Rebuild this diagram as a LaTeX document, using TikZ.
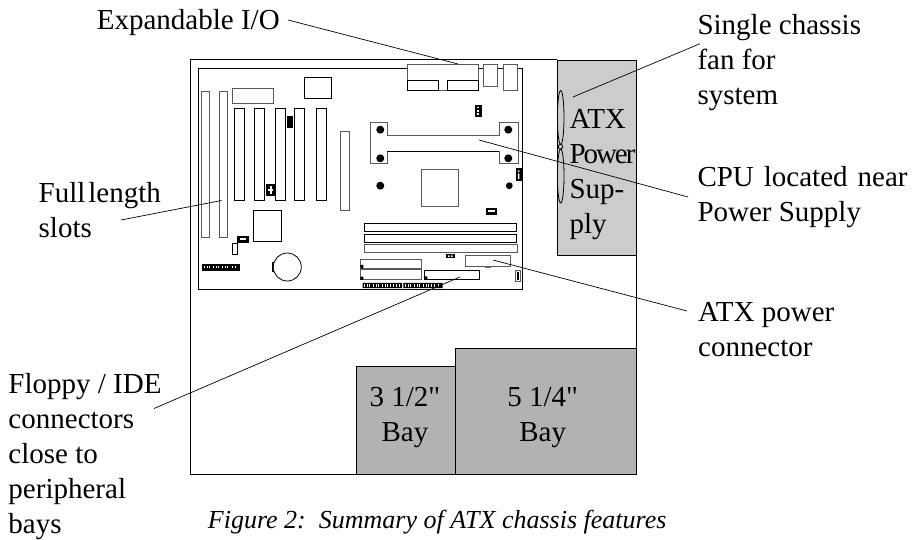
\documentclass[tikz,border=0pt]{standalone}
\usepackage{fontspec}
\setmainfont{Liberation Serif}
\newfontfamily\plainserif{Liberation Serif}
\usepackage{tikz}
\usetikzlibrary{positioning}
\definecolor{psugray}{gray}{0.8}
\definecolor{baygray}{gray}{0.7}
\tikzset{
    part/.style={draw=black,line width=0.8pt,fill=white},
    softpart/.style={draw=black!65,line width=1pt,fill=white},
    chip/.style={draw=black,line width=0.8pt,fill=black},
    lead/.style={draw=black,line width=0.7pt},
    hole/.style={fill=black},
    lab/.style={inner sep=0pt,anchor=base west,align=left,font=\fontsize{29}{35}\selectfont},
    baylab/.style={inner sep=0pt,anchor=base,align=center,font=\fontsize{29}{35}\plainserif\selectfont}
}
\begin{document}
\begin{tikzpicture}[x=1pt,y=-1pt]
    \useasboundingbox (0,0) rectangle (916,540);
    % chassis and power supply
    \draw[part] (190,474) -- (190,59.5) -- (557,59.5);
    \draw[part] (636.5,255) -- (636.5,474) -- (190,474);
    \draw[part,fill=psugray] (557,60) rectangle (636.5,255);
    \draw[part,fill=baygray] (356.5,366) rectangle (455,474);
    \draw[part,fill=baygray] (455,348.5) rectangle (636.5,474);
    \draw[part,fill=none] (560.7,117.5) ellipse (3.3pt and 27pt);
    \draw[part,fill=none] (560.7,176) ellipse (3.3pt and 27pt);
    \draw[part,fill=none] (560.5,146.7) circle (2.3pt);
    % board
    \draw[part] (198,68) rectangle (522,289);
    \foreach \x in {201,219}
        \draw[softpart] (\x,92) rectangle +(8,146);
    \foreach \x in {234,254.5,275,294.5,316}
        \draw[part] (\x,108) rectangle +(10,92);
    \draw[softpart] (340,132) rectangle (349,211);
    \draw[softpart] (232,88.5) rectangle (273.5,104);
    \draw[part] (304,77) rectangle (331,98.5);
    \draw[part] (253,210.7) rectangle (281.7,241.3);
    \draw[chip] (287.5,116) rectangle (292.5,127);
    \draw[chip] (266,184) rectangle (274.5,195.5);
    \draw[white,line width=1.2pt] (268,190) -- (273,190) (271,186) -- (271,194);
    \draw[chip] (237.5,236.5) rectangle (248.5,242);
    \draw[white,line width=1.5pt] (240,239) -- (246,239);
    \draw[part] (232.3,243.5) rectangle (237,254);
    % battery and pin header
    \draw[part] (272,262) rectangle (277,271);
    \draw[part] (287.3,267) circle (14pt);
    \fill (202,264.5) rectangle (240,271.5);
    \foreach \x in {204,206.5,209,213,215.5,218,222,224.5,227,231.5,235}
        \fill[white] (\x,266) rectangle +(1.3,1.8);
    % expandable I/O
    \draw[softpart] (407.7,65) rectangle (478.3,90.7);
    \draw[part] (407.7,80.7) rectangle (438.3,90.7);
    \draw[part] (447.7,80.7) rectangle (478.3,90.7);
    \draw[softpart] (483.5,65) rectangle (497.3,86.3);
    \draw[softpart] (503,65) rectangle (517.3,90.3);
    \draw[chip] (475,105) rectangle (481,116);
    \foreach \y in {107,110.5,113.5}
        \fill[white] (476.8,\y) rectangle +(2.4,1.3);
    % cpu retention and holes
    \draw[softpart] (370.3,123) -- (387,123) -- (387,136) -- (499.3,136) -- (499.3,123)
        -- (518.3,123) -- (518.3,164) -- (499.3,164) -- (499.3,151.3) -- (387,151.3)
        -- (387,164) -- (370.3,164) -- cycle;
    \draw[part] (387,151.3) -- (499.3,151.3);
    \foreach \x/\y/\r in {380.3/129.7/4,508.3/129.7/4,380.3/158.3/4,508.3/158.3/4,380.3/185.7/4,509.3/185.7/3.4}
        \fill[hole] (\x,\y) circle (\r pt);
    \draw[softpart] (421.7,169.5) rectangle (458.3,206.7);
    \draw[chip] (516,168.5) rectangle (521,180);
    \fill[white] (517.8,170.5) rectangle +(1.5,1.5) (517.8,173.5) rectangle +(1.5,5.5);
    \draw[chip] (486,208.5) rectangle (496.5,214);
    \fill[white] (488,210.3) rectangle +(7,1.6);
    % memory sockets
    \draw[part] (364.3,223.3) rectangle (516.7,231.7);
    \draw[part] (364.3,234.7) rectangle (516.7,242.7);
    \draw[softpart] (364.3,244.3) rectangle (517.3,252.3);
    % connectors
    \draw[chip] (446.5,254.5) rectangle (454,257.7);
    \fill[white] (448,255.5) rectangle +(1.6,1.4) (451,255.5) rectangle +(1.6,1.4);
    \draw[softpart] (465.7,255.5) rectangle (510,266.3);
    \fill[black!60] (485.3,266) rectangle (490.7,267.7);
    \draw[softpart] (360.3,259.3) rectangle (421,268.7);
    \draw[softpart] (360.3,269.7) rectangle (421,280);
    \draw[part] (424.3,270.3) rectangle (479.3,279.3);
    \fill (360.3,265) rectangle +(3,3.3) (360.3,276.7) rectangle +(3,3.3) (424.3,276.5) rectangle +(3,3);
    \fill (362.7,283) rectangle (402,288) (403.3,283) rectangle (442.7,288);
    \foreach \x in {364,366.5,369,373,375.5,378,382,384.5,387,390,393,396,399,405,407.5,410,414,416.5,419,423,425.5,428,431,434,438}
        \fill[white] (\x,284.3) rectangle +(1.4,2.4);
    \draw[softpart] (515,271) rectangle (520.5,282);
    \fill (516.5,272.5) rectangle (519,280.5);
    % text
    \node[lab] (IO) at (96.7,30) {Expandable I/O};
    \node[lab] (FAN) at (697.3,105) {Single chassis\\fan for\\system};
    \node[lab] (CPU) at (697.3,221.7) {{\spaceskip=10pt CPU located near}\\Power Supply};
    \node[lab] (PWR) at (698,356.7) {ATX power\\connector};
    \node[lab] (SLOTS) at (38.5,237.7) {{\spaceskip=3pt Full length}\\slots};
    \node[lab] (IDE) at (8.3,533.5) {Floppy / IDE\\connectors\\close to\\peripheral\\bays};
    \node[lab] (PSU) at (569.3,233.5) {ATX\\{\addfontfeature{LetterSpace=-7}Power}\\Sup-\\ply};
    \node[baylab] (SMALL) at (405,441.7) {3 1/2"\\Bay};
    \node[baylab] (LARGE) at (542.7,441.7) {5 1/4"\\Bay};
    \node[inner sep=0pt,anchor=base west,font=\fontsize{26}{31}\selectfont\itshape] (CAP) at (207.7,528) {Figure 2:\ \ Summary of ATX chassis features};
    % leaders
    \coordinate (IOa) at (288,20);
    \coordinate (IOb) at (458,64);
    \coordinate (FANa) at (700,43.7);
    \coordinate (FANb) at (573,97);
    \coordinate (CPUa) at (688,197);
    \coordinate (CPUb) at (479,140);
    \coordinate (PWRa) at (687,311);
    \coordinate (PWRb) at (493,260);
    \coordinate (SLOTa) at (121,220);
    \coordinate (SLOTb) at (221.5,200.5);
    \coordinate (IDEa) at (154,408.5);
    \coordinate (IDEb) at (460,277);
    \draw[lead] (IOa) -- (IOb);
    \draw[lead] (FANa) -- (FANb);
    \draw[lead] (CPUa) -- (CPUb);
    \draw[lead] (PWRa) -- (PWRb);
    \draw[lead] (SLOTa) -- (SLOTb);
    \draw[lead] (IDEa) -- (IDEb);
\end{tikzpicture}
\end{document}
